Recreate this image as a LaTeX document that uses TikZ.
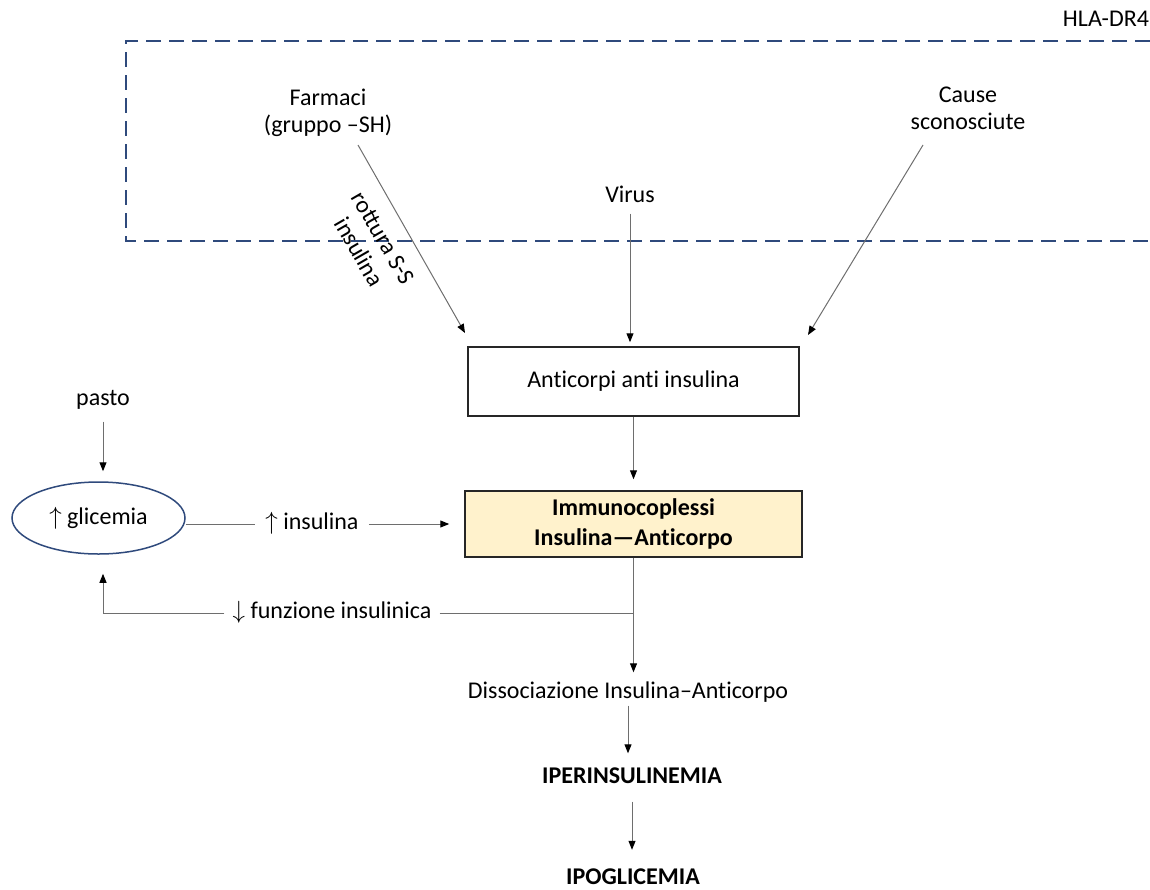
\documentclass[tikz,border=0pt]{standalone}
\usepackage{fontspec}
\setmainfont{Carlito}[Ligatures={TeX,NoCommon}]
\usetikzlibrary{arrows.meta, positioning, calc, shapes.geometric}
\definecolor{hlablue}{HTML}{2F4A7C}
\definecolor{immfill}{HTML}{FFF2CC}
\definecolor{linegray}{HTML}{6E6E6E}
\definecolor{boxgray}{HTML}{262626}

\begin{document}
\begin{tikzpicture}[x=1pt, y=-1pt,
  txt/.style={font=\fontsize{24}{28}\selectfont, inner sep=6pt, text height=16pt, text depth=5pt},
  multi/.style={font=\fontsize{24}{27}\selectfont, align=center, inner sep=4pt},
  conn/.style={draw=linegray, line width=1pt, -{Triangle[length=9pt, width=7pt, color=black]}},
  plain/.style={draw=linegray, line width=1pt},
  hladash/.style={draw=hlablue, line width=2pt, dash pattern=on 15pt off 8pt},
  box/.style={draw=boxgray, line width=1.5pt, inner sep=0pt, font=\fontsize{24}{30}\selectfont, align=center}
]
  \useasboundingbox (0,0) rectangle (1150,889);

  % HLA-DR4 region
  \draw[hladash] (1150,41) -- (126,41) -- (126,241) -- (1150,241);
  \node[txt] (hla) at (1106,21) {HLA-DR4};

  % Triggers
  \node[multi] (farm) at (328,113) {Farmaci\\(gruppo –SH)};
  \node[txt] (virus) at (630,197) {Virus};
  \node[multi] (cause) at (968,108) {Cause\\sconosciute};
  \coordinate (farmA) at (358,145);
  \coordinate (farmB) at (465,333);
  \coordinate (causeA) at (923,145);
  \coordinate (causeB) at (808,335);

  % Main chain
  \node[box, minimum width=331pt, minimum height=69pt] (anti) at (633.5,381.5) {Anticorpi anti insulina};
  \node[box, fill=immfill, minimum width=337pt, minimum height=66pt, font=\fontsize{24}{30}\selectfont\bfseries] (imm) at (633.5,524) {Immunocoplessi\\Insulina—Anticorpo};
  \node[txt] (diss) at (628,693) {Dissociazione Insulina–Anticorpo};
  \node[txt, font=\fontsize{24}{28}\selectfont\bfseries] (iper) at (632,778) {IPERINSULINEMIA};
  \node[txt, inner sep=1pt, text depth=0pt, font=\fontsize{24}{28}\selectfont\bfseries] (ipo) at (633,876) {IPOGLICEMIA};

  % Glycaemia loop
  \node[txt] (pasto) at (103,400) {pasto};
  \node[ellipse, draw=hlablue, line width=1.5pt, minimum width=173pt, minimum height=72pt, inner sep=0pt,
        font=\fontsize{24}{28}\selectfont] (glic) at (98.5,518) {$\uparrow$ glicemia};
  \node[txt, inner xsep=10pt] (ins) at (312,524) {$\uparrow$ insulina};
  \node[txt, inner xsep=8pt] (funz) at (332,613) {$\downarrow$ funzione insulinica};

  % Arrows from triggers
  \draw[conn] (farmA) -- (farmB);
  \node[multi, font=\fontsize{24}{28}\selectfont, inner sep=0pt, rotate=-60] (rott) at (371,245) {rottura S-S\\insulina};
  \draw[conn, shorten >=4pt] (virus.south) -- (virus.south |- anti.north);
  \draw[conn] (causeA) -- (causeB);

  % Arrows of the chain
  \draw[conn, shorten >=11pt] (anti.south) -- (anti.south |- imm.north);
  \draw[conn, shorten >=4pt] (imm.south) -- (imm.south |- diss.north);
  \draw[conn, shorten <=-4pt, shorten >=8pt] (diss.south) -- (diss.south |- iper.north);
  \draw[conn, shorten <=7pt, shorten >=17pt] (iper.south) -- (iper.south |- ipo.north);

  % Loop arrows
  \draw[conn, shorten <=5pt, shorten >=10pt] (pasto.south) -- (pasto.south |- glic.north);
  \draw[plain] (glic.east |- ins.west) -- (ins.west);
  \draw[conn, shorten >=15pt] (ins.east) -- (imm.west |- ins.east);
  \draw[plain] (funz.east) -- (imm.south |- funz.east);
  \draw[conn, shorten >=19pt] (funz.west) -| (pasto.south |- glic.south);
\end{tikzpicture}
\end{document}
